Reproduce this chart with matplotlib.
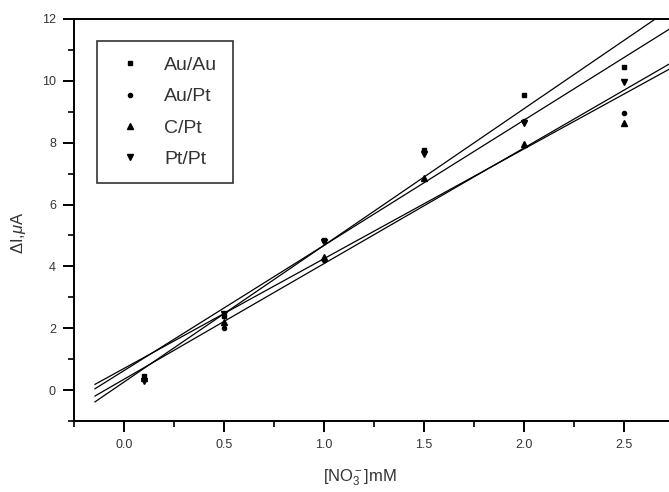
import numpy as np
import matplotlib
matplotlib.use('Agg')
import matplotlib.pyplot as plt
from matplotlib.ticker import MultipleLocator

plt.rcParams['font.family'] = ['Liberation Sans', 'DejaVu Sans']
plt.rcParams['mathtext.fontset'] = 'custom'
plt.rcParams['mathtext.rm'] = 'Liberation Sans'
plt.rcParams['mathtext.it'] = 'Liberation Sans:italic'

# nitrate concentration, mM
conc = [0.1, 0.5, 1.0, 1.5, 2.0, 2.5]

# current change, uA, per electrode pair
au_au = [0.45, 2.40, 4.85, 7.75, 9.55, 10.45]
au_pt = [0.35, 2.00, 4.20, 7.70, 8.70, 8.95]
c_pt = [0.40, 2.20, 4.30, 6.85, 7.95, 8.65]
pt_pt = [0.30, 2.45, 4.80, 7.65, 8.65, 9.95]

# linear fits (slope, intercept)
fit_au_au = (4.42, 0.26)
fit_au_pt = (3.55, 0.70)
fit_c_pt = (3.74, 0.35)
fit_pt_pt = (4.05, 0.63)

labels = ['Au/Au', 'Au/Pt', 'C/Pt', 'Pt/Pt']
series = [au_au, au_pt, c_pt, pt_pt]
fits = [fit_au_au, fit_au_pt, fit_c_pt, fit_pt_pt]
markers = ['s', 'o', '^', 'v']
msizes = [2.6, 3.0, 5.0, 5.0]

fig = plt.figure(figsize=(6.69, 4.92), dpi=100)
ax = fig.add_axes([0.1106, 0.1443, 0.897, 0.8171])

xfit = np.array([-0.145, 2.9])
for ys, (m, b) in zip(series, fits):
    ax.plot(xfit, m * xfit + b, color='black', lw=0.9)

for ys, lab, mk, ms in zip(series, labels, markers, msizes):
    ax.plot(conc, ys, linestyle='none', marker=mk, ms=ms, color='black',
            label=lab)

ax.set_xlim(-0.25, 2.75)
ax.set_ylim(-1, 12)
ax.xaxis.set_major_locator(MultipleLocator(0.5))
ax.xaxis.set_minor_locator(MultipleLocator(0.25))
ax.yaxis.set_major_locator(MultipleLocator(2))
ax.yaxis.set_minor_locator(MultipleLocator(1))
ax.xaxis.set_major_formatter(matplotlib.ticker.FormatStrFormatter('%.1f'))

ax.tick_params(which='major', direction='out', length=8, width=1.4,
               labelsize=9, labelcolor='#333333', pad=5)
ax.tick_params(which='minor', direction='out', length=4, width=1.2)
ax.tick_params(top=False, right=False)
for s in ax.spines.values():
    s.set_linewidth(1.4)

leg = ax.legend(loc='upper left', bbox_to_anchor=(0.0383, 0.945),
                borderaxespad=0, fontsize=14, frameon=True, fancybox=False,
                edgecolor='black', handlelength=1.8, handletextpad=0.85,
                borderpad=0.8, labelspacing=0.7, numpoints=1,
                markerscale=1.0)
leg.get_frame().set_linewidth(1.2)
for t in leg.get_texts():
    t.set_color('#333333')

fig.text(18 / 669, 1 - 233 / 492, r'$\Delta$I,$\mu$A', rotation=90,
         ha='center', va='center', fontsize=12, color='#333333')
fig.text(360 / 669, 1 - 478 / 492, r'[NO$_3^-$]mM', ha='center',
         va='center', fontsize=12, color='#333333')

fig.savefig('out.png', dpi=100)
